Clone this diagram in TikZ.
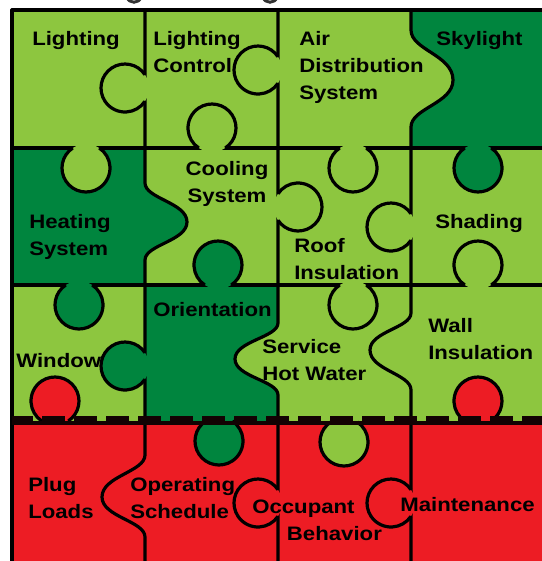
\documentclass[tikz,border=0pt]{standalone}
\usepackage{fontspec}
\newfontfamily\lblfont[FakeStretch=1.14]{Liberation Sans}
\definecolor{lg}{RGB}{141,198,63}
\definecolor{dg}{RGB}{0,133,62}
\definecolor{rd}{RGB}{237,28,36}
\tikzset{
  edge/.style={line width=2.4pt, draw=black, line join=round},
  lbl/.style={font=\lblfont\bfseries\fontsize{14.6pt}{20.25pt}\selectfont, inner sep=0pt, align=left, text=black},
}
% smooth bump along a vertical edge, from current point (#1,#2) to (#1,#3), peak at (#4,#5)
\newcommand\vb[5]{.. controls (#1,{#2+0.4*(#5-#2)}) and (#4,{#5-0.5*(#5-#2)}) .. (#4,#5)
 .. controls (#4,{#5+0.5*(#3-#5)}) and (#1,{#3-0.4*(#3-#5)}) .. (#1,#3)}
% round tab: centre (#1,#2), outward direction angle #3, colour #4
\newcommand\knob[4]{%
 \fill[#4] (#1,#2) circle[radius=24];
 \pgfmathsetmacro\ksa{#3+146.4}\pgfmathsetmacro\kea{#3-146.4}%
 \draw[edge] (#1,#2) ++(\ksa:24) arc[start angle=\ksa, end angle=\kea, radius=24];
}
\begin{document}
\begin{tikzpicture}[x=0.75pt,y=-0.75pt]
\useasboundingbox (0,0) rectangle (542,561);
\clip (0,0) rectangle (542,561);
% cells
\fill[lg] (12,10) rectangle (145,148);
\fill[lg] (145,10) rectangle (278,148);
\fill[lg] (278,10) rectangle (411,148);
\fill[dg] (411,10) rectangle (560,148);
\fill[dg] (12,148) rectangle (145,285);
\fill[lg] (145,148) rectangle (278,285);
\fill[lg] (278,148) rectangle (411,285);
\fill[lg] (411,148) rectangle (560,285);
\fill[lg] (12,285) rectangle (145,421);
\fill[dg] (145,285) rectangle (278,421);
\fill[lg] (278,285) rectangle (411,421);
\fill[lg] (411,285) rectangle (560,421);
\fill[rd] (12,421) rectangle (560,570);
% smooth bumps
\fill[lg] (411,30) \vb{411}{30}{127}{453}{80} -- cycle;
\fill[dg] (145,183) \vb{145}{183}{260}{187}{222} -- cycle;
\fill[lg] (278,323) \vb{278}{323}{395}{235}{359} -- cycle;
\fill[lg] (411,313) \vb{411}{313}{390}{370}{350} -- cycle;
\fill[rd] (145,455) \vb{145}{455}{537}{102}{497} -- cycle;
% grid lines
\draw[edge] (12,570) -- (12,10) -- (560,10);
\draw[edge] (12,148) -- (560,148);
\draw[edge] (12,285) -- (560,285);
\draw[edge] (145,10) -- (145,183) \vb{145}{183}{260}{187}{222} -- (145,455) \vb{145}{455}{537}{102}{497} -- (145,570);
\draw[edge] (278,10) -- (278,323) \vb{278}{323}{395}{235}{359} -- (278,570);
\draw[edge] (411,10) -- (411,30) \vb{411}{30}{127}{453}{80} -- (411,313) \vb{411}{313}{390}{370}{350} -- (411,570);
% round tabs
\knob{86}{168}{90}{lg}
\knob{212}{128}{-90}{lg}
\knob{353}{168}{90}{lg}
\knob{478}{168}{90}{dg}
\knob{79}{305}{90}{dg}
\knob{218}{265}{-90}{dg}
\knob{353}{305}{90}{lg}
\knob{478}{265}{-90}{lg}
\knob{55}{401}{-90}{rd}
\knob{219}{441}{90}{dg}
\knob{344}{442}{90}{lg}
\knob{478}{401}{-90}{rd}
\knob{125}{88}{180}{lg}
\knob{258}{70}{180}{lg}
\knob{298}{207}{0}{lg}
\knob{391}{227}{180}{lg}
\knob{125}{366}{180}{dg}
\knob{258}{503}{180}{rd}
\knob{391}{503}{180}{rd}
% dashed divider
\draw[line width=3.2pt, black!92!rd, dash pattern=on 17.25pt off 6.75pt, dash phase=1.5pt] (12,418.5) -- (560,418.5);
\draw[line width=3pt, black!92!rd] (12,423) -- (560,423);
% title descenders
\draw[line width=2.2pt, black!80] (127,-3) .. controls (129,4) and (139,4) .. (141,-3);
\draw[line width=2.2pt, black!80] (263,-3) .. controls (265,4) and (275,4) .. (277,-3);
% labels
\node[lbl, anchor=north west] (l1) at (32,31) {Lighting};
\node[lbl, anchor=north west] (l2) at (153,31) {Lighting\\Control};
\node[lbl, anchor=north west] (l3) at (299,31) {Air\\Distribution\\System};
\node[lbl, anchor=north west] (l4) at (436,31) {Skylight};
\node[lbl, anchor=north west] (l5) at (29,214) {Heating\\System};
\node[lbl, anchor=north, align=center] (l6) at (227,161) {Cooling\\System};
\node[lbl, anchor=north west] (l7) at (294,238) {Roof\\Insulation};
\node[lbl, anchor=north west] (l8) at (435,214) {Shading};
\node[lbl, anchor=north west] (l9) at (16,353) {Window};
\node[lbl, anchor=north west] (l10) at (153,302) {Orientation};
\node[lbl, anchor=north west] (l11) at (262,339) {Service\\Hot Water};
\node[lbl, anchor=north west] (l12) at (428,318) {Wall\\Insulation};
\node[lbl, anchor=north west] (l13) at (28,477) {Plug\\Loads};
\node[lbl, anchor=north west] (l14) at (130,477) {Operating\\Schedule};
\node[lbl, anchor=north west] (l15) at (252,500) {Occupant\\\hspace*{26pt}Behavior};
\node[lbl, anchor=north west] (l16) at (400,497) {Maintenance};
\end{tikzpicture}
\end{document}
